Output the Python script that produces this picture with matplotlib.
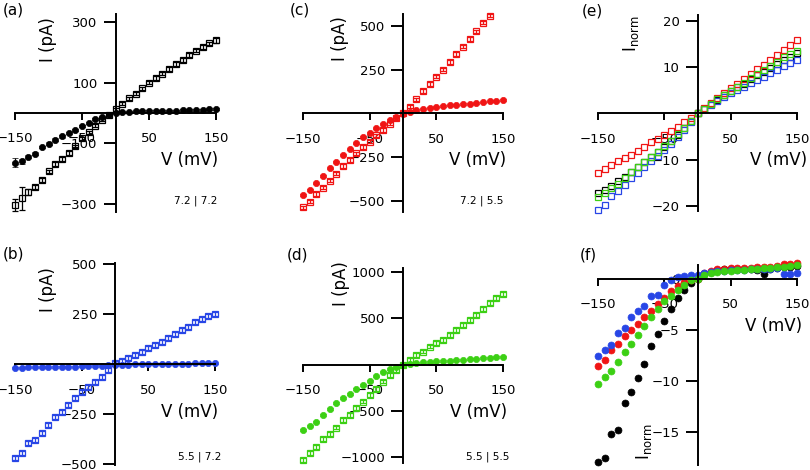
import numpy as np
import matplotlib
matplotlib.use("Agg")
import matplotlib.pyplot as plt

W, H = 810, 470

# voltage steps (mV)
volts = [-150, -140, -130, -120, -110, -100, -90, -80, -70, -60, -50, -40, -30, -20, -10,
         0, 10, 20, 30, 40, 50, 60, 70, 80, 90, 100, 110, 120, 130, 140, 150]

# (a) 7.2 | 7.2, pA
a_sq = [-303, -282, -262, -244, -222, -193, -168, -152, -132, -110, -84, -64, -42, -22, -5,
        12, 30, 48, 64, 82, 100, 115, 130, 145, 161, 176, 191, 206, 219, 230, 240]
a_sq_err = [20, 38, 10, 6, 6, 6, 6, 6, 6, 5, 5, 5, 5, 5, 5,
            5, 5, 5, 5, 5, 5, 6, 6, 6, 6, 6, 6, 6, 6, 6, 8]
a_ci = [-165, -160, -145, -134, -112, -101, -88, -77, -66, -55, -43, -32, -21, -12, -5,
        0, 3, 4, 5, 6, 6, 7, 7, 8, 8, 9, 9, 10, 11, 12, 14]
a_ci_err = [15, 8, 5, 5, 4, 4, 4, 4, 3, 3, 3, 3, 3, 3, 3,
            3, 3, 3, 3, 3, 3, 3, 3, 3, 3, 3, 3, 3, 3, 3, 3]

# (c) 7.2 | 5.5
c_sq = [-538, -506, -462, -425, -385, -345, -302, -267, -229, -193, -162, -126, -95, -59, -29,
        2, 38, 80, 128, 168, 210, 250, 294, 340, 382, 424, 468, 519, 559, np.nan, np.nan]
c_ci = [-468, -439, -401, -359, -315, -277, -236, -206, -172, -136, -111, -86, -60, -36, -19,
        -4, 10, 19, 26, 32, 38, 42, 46, 49, 52, 55, 58, 63, 68, 72, 76]

# (b) 5.5 | 7.2
b_sq = [-470, -445, -395, -378, -345, -303, -262, -237, -203, -170, -137, -112, -87, -62, -28,
        5, 17, 30, 47, 63, 80, 97, 113, 130, 150, 172, 188, 210, 227, 242, 250]
b_ci = [-16, -16, -15, -15, -14, -14, -13, -12, -12, -11, -10, -9, -8, -7, -5,
        -3, -2, -1, 0, 0, 1, 1, 2, 2, 3, 3, 3, 4, 4, 5, 5]

# (d) 5.5 | 5.5
d_sq = [-1029, -957, -885, -802, -748, -680, -597, -543, -471, -399, -327, -263, -183, -112, -58,
        -4, 50, 104, 140, 194, 230, 266, 320, 374, 428, 482, 536, 601, 662, 716, 759]
d_ci = [-705, -658, -615, -543, -478, -417, -363, -317, -263, -219, -173, -129, -76, -47, -22,
        0, 8, 15, 22, 28, 33, 38, 43, 48, 53, 58, 63, 68, 74, 80, 86]

# (e) normalised, open squares
e_black = [-17.3, -16.6, -15.6, -14.7, -13.8, -12.7, -11.6, -10.5, -9.4, -8.3, -7.2, -6.0, -4.6, -3.2, -1.6,
           0.0, 1.0, 1.9, 2.9, 3.9, 4.8, 5.6, 6.4, 7.3, 8.2, 9.0, 9.8, 10.7, 11.5, 12.2, 12.9]
e_blue = [-20.9, -19.7, -17.8, -16.7, -15.5, -14.0, -12.8, -11.6, -10.4, -9.2, -8.0, -6.7, -5.2, -3.6, -1.9,
          0.0, 0.9, 1.8, 2.7, 3.6, 4.4, 5.0, 5.7, 6.5, 7.2, 7.9, 8.6, 9.4, 10.1, 10.8, 11.4]
e_red = [-12.8, -12.0, -11.2, -10.4, -9.7, -9.0, -8.1, -7.2, -6.3, -5.6, -4.6, -3.8, -2.9, -2.0, -1.1,
         0.0, 1.2, 2.2, 3.2, 4.3, 5.4, 6.3, 7.3, 8.5, 9.5, 10.4, 11.5, 12.6, 13.7, 14.7, 15.7]
e_green = [-18.0, -17.2, -16.1, -15.2, -14.0, -12.6, -11.6, -10.5, -9.4, -8.3, -7.1, -5.9, -4.5, -3.1, -1.6,
           0.0, 1.0, 2.0, 3.0, 4.0, 4.9, 5.7, 6.5, 7.6, 8.5, 9.4, 10.2, 11.1, 12.1, 12.7, 13.5]

# (f) normalised, filled circles
f_black = [-17.9, -17.5, -15.2, -14.8, -12.1, -11.1, -9.7, -8.3, -6.6, -5.4, -4.1, -3.0, -1.9, -1.1, -0.45,
           0.0, 0.4, 0.6, 0.8, 0.9, 0.95, 0.95, 0.9, 0.9, 0.85, 0.4, 0.9, 1.0, 1.1, 1.15, 1.2]
f_red = [-8.5, -8.0, -7.0, -6.4, -5.6, -5.0, -4.4, -3.8, -3.2, -2.5, -1.9, -1.2, -0.7, -0.35, -0.1,
         0.0, 0.5, 0.75, 0.9, 0.95, 1.0, 1.0, 1.05, 1.05, 1.1, 1.1, 1.15, 1.2, 1.4, 1.45, 1.5]
f_blue = [-7.6, -7.0, -6.5, -5.3, -4.8, -3.8, -3.2, -2.7, -1.7, -1.6, -0.6, -0.1, 0.15, 0.25, 0.3,
          0.3, 0.5, 0.6, 0.7, 0.75, 0.8, 0.85, 0.85, 0.9, 0.9, 0.95, 0.95, 1.0, 0.4, 0.45, 0.5]
f_green = [-10.3, -9.6, -9.0, -8.1, -7.2, -6.4, -5.5, -4.6, -3.75, -2.95, -2.2, -1.7, -1.1, -0.6, -0.1,
           0.0, 0.3, 0.55, 0.65, 0.7, 0.75, 0.8, 0.85, 0.9, 0.95, 1.0, 1.05, 1.1, 1.15, 1.2, 1.35]

BLACK = "#000000"
RED = "#f01414"
BLUE = "#2846e6"
GREEN = "#3cd014"

fig = plt.figure(figsize=(W / 100, H / 100), dpi=100)


def make_ax(left, top, right, bottom, ylim, yticks):
    ax = fig.add_axes([left / W, 1 - bottom / H, (right - left) / W, (bottom - top) / H])
    ax.patch.set_visible(False)
    ax.set_xlim(-150, 150)
    ax.set_ylim(*ylim)
    ax.spines["top"].set_visible(False)
    ax.spines["right"].set_visible(False)
    ax.spines["left"].set_position(("data", 0))
    ax.spines["bottom"].set_position(("data", 0))
    ax.spines["left"].set_linewidth(1.4)
    ax.spines["bottom"].set_linewidth(1.4)
    ax.set_xticks([-150, -50, 50, 150])
    ax.set_yticks(yticks)
    ax.tick_params(axis="x", direction="out", length=5, width=1.4, pad=9, labelsize=9.5)
    ax.tick_params(axis="y", direction="out", length=9, width=1.4, pad=4, labelsize=9.5)
    return ax


def squares(ax, y, color, yerr=None, ms=4.5):
    ax.errorbar(volts, y, yerr=yerr, fmt="s", ms=ms, mfc="none", mec=color, mew=0.9,
                ecolor=color, elinewidth=0.9, capsize=2, clip_on=False)


def circles(ax, y, color, yerr=None, ms=4.5):
    ax.errorbar(volts, y, yerr=yerr, fmt="o", ms=ms, mfc=color, mec=color, mew=0.5,
                ecolor=color, elinewidth=0.9, capsize=2, clip_on=False)


def txt(x, y, s, size, ha="left", va="center", rot=0):
    fig.text(x / W, 1 - y / H, s, fontsize=size, ha=ha, va=va, rotation=rot)


# (a)
ax = make_ax(15, 14, 216, 212, (-327, 327), [-300, -100, 100, 300])
squares(ax, a_sq, BLACK, a_sq_err)
circles(ax, a_ci, BLACK, a_ci_err)

# (c)
ax = make_ax(303, 14, 503, 212, (-565, 568), [-500, -250, 250, 500])
squares(ax, c_sq, RED, 10)
circles(ax, c_ci, RED, 4)

# (e)
ax = make_ax(598, 15, 797, 211, (-21.1, 21.2), [-20, -10, 10, 20])
squares(ax, e_black, BLACK, ms=5)
squares(ax, e_blue, BLUE, ms=5)
squares(ax, e_red, RED, ms=5)
squares(ax, e_green, GREEN, ms=5)

# (b)
ax = make_ax(15, 263, 215, 465, (-503, 506), [-500, -250, 250, 500])
squares(ax, b_sq, BLUE, 10)
circles(ax, b_ci, BLUE, 3)

# (d)
ax = make_ax(303, 268, 503, 463, (-1061, 1040), [-1000, -500, 500, 1000])
squares(ax, d_sq, GREEN, 20)
circles(ax, d_ci, GREEN, 8)

# (f)
ax = make_ax(598, 265, 797, 464.5, (-18.15, 1.32), [-15, -10, -5, 0])
circles(ax, f_black, BLACK, ms=5)
circles(ax, f_red, RED, ms=5)
circles(ax, f_blue, BLUE, ms=5)
circles(ax, f_green, GREEN, ms=5)

# panel letters
txt(3, 10, "(a)", 11)
txt(290, 10, "(c)", 11)
txt(582, 11, "(e)", 11)
txt(3, 254, "(b)", 11)
txt(287, 255, "(d)", 11)
txt(580, 255, "(f)", 11)

# axis titles
for x, y in [(48, 40), (340, 39), (48, 290), (341, 284)]:
    txt(x, y, "I (pA)", 12, ha="center", rot=90)
txt(631, 34, r"I$_{\mathrm{norm}}$", 12, ha="center", rot=90)
txt(644, 442, r"I$_{\mathrm{norm}}$", 12, ha="center", rot=90)

for x, y in [(218, 160), (506, 160), (807, 160), (218, 412), (507, 412), (802, 326)]:
    txt(x, y, "V (mV)", 12, ha="right")

# solution labels
txt(217, 201, "7.2 | 7.2", 7.5, ha="right")
txt(503, 201, "7.2 | 5.5", 7.5, ha="right")
txt(221, 457, "5.5 | 7.2", 7.5, ha="right")
txt(509, 457, "5.5 | 5.5", 7.5, ha="right")

fig.savefig("out.png", dpi=100)
